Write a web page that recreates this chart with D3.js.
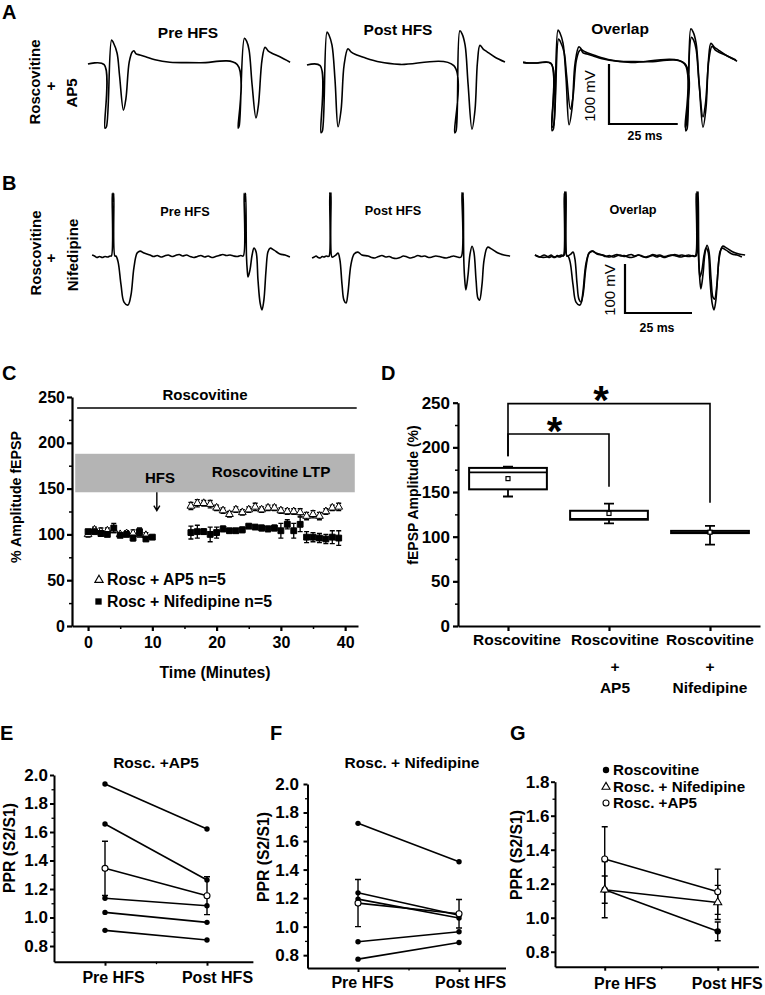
<!DOCTYPE html>
<html><head><meta charset="utf-8"><title>Figure</title>
<script src="https://cdn.jsdelivr.net/npm/d3@7/dist/d3.min.js"></script>
<style>
 html,body{margin:0;padding:0;background:#fff;}
 svg{display:block;font-family:"Liberation Sans",Arial,Helvetica,sans-serif;}
</style></head>
<body><svg id="fig" width="765" height="995"></svg>
<script>
// ================= DATA =================
// Panels A/B: field potential traces, [time (ms) from 1st stimulus, mV from baseline]
const tracePreA = [[-6.2,0],[-0.3,-1],[0,-107],[0.5,-105],[2.4,40],[3.1,35],[4.4,18],[5.3,-20],[6.7,-77],[7.6,-58],[8.8,3],[9.9,20],[10.5,22],[11.3,17],[12.7,15],[14.8,12],[18.2,7],[23.6,3],[34.5,2],[48.1,-1],[48.4,-107],[48.8,-103],[50.7,43],[51.5,38],[52.4,23],[53.5,-35],[54.9,-90],[55.8,-68],[57.1,7],[58.2,28],[59.3,22],[60.7,18],[63.6,12],[67.3,3]];
const tracePostA = [[-5.1,0],[-0.3,-1],[0,-113],[0.5,-110],[2.2,55],[2.9,50],[4.0,33],[5.1,-25],[6.2,-103],[7.3,-75],[8.4,0],[9.8,27],[10.9,22],[12.4,18],[16,12],[21.5,5],[28.7,1],[48.3,-1],[48.6,-113],[49.1,-110],[50.5,57],[51.3,52],[52.4,33],[53.5,-33],[54.9,-107],[56,-75],[56.9,5],[57.8,33],[58.9,27],[60.4,22],[63.3,13],[66.9,5]];
const leadA = [[-10.5,1],[-8.4,0]];
const tracePreB = [[-7.8,2],[-6.9,0],[-6.0,-3],[-5.0,-1],[-4.0,-3],[-3.0,-1],[-2.0,-2],[-1.1,0],[-0.6,0],[-0.3,128],[0,112],[0.3,128],[0.7,0],[1.1,0],[1.9,-12],[3.0,-59],[4.1,-94],[5.6,-100],[6.7,-80],[7.8,-24],[9.0,6],[10.1,10],[11.6,6],[13.8,2],[15.2,-1],[16.5,1],[17.9,-2],[19.2,0],[20.6,2],[22,-1],[23.3,1],[24.7,3],[26,0],[27.4,2],[28.8,-1],[30.1,-3],[31.5,-1],[32.8,1],[34.2,-2],[35.5,0],[36.9,-3],[38.3,-1],[39.6,1],[41,3],[42.3,1],[43.7,2],[45,0],[46.4,-1],[47.7,1],[48.6,0],[48.9,128],[49.2,112],[49.5,128],[49.8,0],[50.1,-29],[50.4,-43],[51.1,-29],[51.9,2],[52.6,16],[53.4,8],[54.1,-49],[54.9,-96],[55.6,-110],[56.3,-90],[57.1,-29],[57.8,8],[58.6,16],[60.1,12],[62.3,4],[64.2,2],[66.0,-2]];
const tracePostB = [[-6.7,-2],[-5.9,0],[-5.2,2],[-4.4,-1],[-3.7,-2],[-2.9,1],[-2.2,0],[-1.4,2],[-0.7,1],[-0.3,2],[-0.1,131],[0.2,118],[0.4,131],[0.7,0],[1.1,0],[2.2,4],[3.0,8],[3.7,-6],[4.5,-57],[5.2,-88],[6.0,-94],[6.7,-73],[7.8,-16],[9.0,6],[10.4,10],[11.9,4],[14.2,2],[15.5,-1],[16.8,-2],[18.1,1],[19.4,3],[20.8,0],[22.1,1],[23.4,-2],[24.8,-3],[26.1,-1],[27.4,2],[28.8,0],[30.1,-2],[31.4,0],[32.8,3],[34.1,1],[35.4,2],[36.8,-1],[38.1,0],[39.4,2],[40.8,1],[42.1,-1],[43.4,-2],[44.8,0],[46.1,2],[47.5,0],[48.9,0],[49.2,131],[49.5,118],[49.7,131],[49.9,0],[50.2,-40],[50.7,-67],[51.5,-37],[52.2,4],[53.0,22],[53.7,10],[54.5,-47],[55.2,-84],[55.8,-88],[56.7,-57],[57.5,-6],[58.8,20],[60.4,16],[62.7,8],[64.9,4],[67.2,2]];
const leadB = [[-11.2,2],[-9.5,-2]];
const traceTitles = ["Pre HFS", "Post HFS", "Overlap"];
const scaleBarMs = 25, scaleBarMv = 100;

// Panel C: time course (% amplitude fEPSP)
const timeAP5Pre = [0,1,2,3,4,5,6,7,8,9];
const ampAP5Pre  = [100,105,103,104,105,100,101,101,100,99];
const errAP5Pre  = [3,3,4,3,3,2,3,4,3,3];
const timeNifPre = [0,1,2,3,4,5,6,7,8,9,10];
const ampNifPre  = [103,103,101,100,107,99,100,96,103,95,97];
const errNifPre  = [2,2,3,2,5,2,2,3,4,2,2];
const timePost   = [16,17,18,19,20,21,22,23,24,25,26,27,28,29,30,31,32,33,34,35,36,37,38,39];
const ampAP5Post = [131,134,134,133,129,126,122,127,124,127,130,127,129,129,126,125,125,124,120,122,120,125,129,130];
const errAP5Post = [4,4,3,4,3,3,3,3,3,3,4,3,3,3,3,3,3,4,4,4,4,3,3,4];
const ampNifPost = [102,103,103,100,102,106,104,104,105,109,108,107,106,107,104,111,104,111,97,97,96,95,97,96];
const errNifPost = [7,7,3,8,6,3,2,2,3,2,2,3,3,3,8,5,8,8,6,5,5,5,7,8];
const ltpBand = [146, 188];
const cYTicks = [0,50,100,150,200,250];
const cYMinor = [25,75,125,175,225];
const cXTicks = [0,10,20,30,40];
const cXMinor = [5,15,25,35];
const hfsTime = 10.7;
const legendC = ["Rosc + AP5 n=5", "Rosc + Nifedipine n=5"];

// Panel D: box plots (fEPSP amplitude %)
const boxCats  = ["Roscovitine", "Roscovitine + AP5", "Roscovitine + Nifedipine"];
const boxLabels = [["Roscovitine"], ["Roscovitine","+","AP5"], ["Roscovitine","+","Nifedipine"]];
const boxQ1   = [153, 119, 104];
const boxMed  = [172, 120, 105];
const boxQ3   = [177, 129, 106.5];
const boxMin  = [145, 115, 91];
const boxMax  = [178.5, 137, 112];
const boxMean = [165, 126, 105];
const dYTicks = [0,50,100,150,200,250];
const dYMinor = [25,75,125,175,225];
// significance brackets: [fromIdx, toIdx, top, leftBottom, rightBottom, starValue]
const sigBrackets = [[0, 2, 249, 190, 138, 262], [0, 1, 215, 190, 156, 227]];

// Panels E/F: paired-pulse ratio, [pre, post] per slice, plus mean +/- SD
const pprAP5 = [[1.937,1.621],[1.656,1.263],[1.135,1.083],[1.036,0.966],[0.91,0.842]];
const pprAP5Mean = [1.345, 1.153], pprAP5Sd = [0.19, 0.133];
const pprNif = [[1.724,1.455],[1.237,1.08],[1.193,1.06],[0.894,0.964],[0.772,0.889]];
const pprNifMean = [1.165, 1.09], pprNifSd = [0.165, 0.1];
const pprXLabels = ["Pre HFS", "Post HFS"];
const pprTicksEF = [0.8,1.0,1.2,1.4,1.6,1.8,2.0];
const pprMinorEF = [0.9,1.1,1.3,1.5,1.7,1.9];
// Panel G: group means
const gSeries = ["Roscovitine", "Rosc. + Nifedipine", "Rosc. +AP5"];
const gMean = [[1.165, 0.92], [1.165, 1.09], [1.345, 1.153]];
const gSd   = [[0.08, 0.055], [0.165, 0.1], [0.19, 0.133]];
const pprTicksG = [0.8,1.0,1.2,1.4,1.6,1.8];
const pprMinorG = [0.9,1.1,1.3,1.5,1.7];

// ================= DRAWING =================
const svg = d3.select("#fig");
const ink = "#000";

function addText(p, x, y, s, size, o = {}) {
  const t = p.append("text").attr("x", x).attr("y", y).text(s)
    .attr("font-size", size).attr("font-weight", o.weight || "bold")
    .attr("text-anchor", o.anchor || "middle").attr("fill", ink);
  if (o.rotate) t.attr("transform", `rotate(${o.rotate},${x},${y})`);
  return t;
}
function styleAxis(g, fs, sw) {
  g.attr("font-family", null).attr("font-size", null);
  g.selectAll("path.domain").attr("stroke-width", sw).attr("stroke", ink);
  g.selectAll(".tick line").attr("stroke-width", sw).attr("stroke", ink);
  g.selectAll(".tick text").attr("font-size", fs).attr("font-weight", "bold").attr("fill", ink);
}
function minorAxis(g, axis, sw) {
  g.call(axis);
  g.select("path.domain").remove();
  g.selectAll(".tick line").attr("stroke-width", sw).attr("stroke", ink);
}

// Panel letters
[["A",2,19],["B",2,190],["C",2,380],["D",381,380],["E",0,740],["F",270,740],["G",510,740]]
  .forEach(([l,x,y]) => addText(svg, x, y, l, 20, {anchor:"start"}));

// ---- A & B traces ----
const rows = [
  {msPx:2.75, mvPx:0.6, origins:[[105,64],[321,65],[552,63]], bar:[609,124],
   titleX:[188,398,620], titleY:[38,35,34], titleSize:15.5, pre:tracePreA, post:tracePostA, lead:leadA,
   mvLabel:[595,96], msLabel:[645,140], rowLabels:[["Roscovitine",40,82],["+",55.5,86],["AP5",77,93]]},
  {msPx:2.68, mvPx:0.49, origins:[[113,256],[330,257],[565,256]], bar:[625,313],
   titleX:[185,393,633], titleY:[216,215,214], titleSize:12.7, pre:tracePreB, post:tracePostB, lead:leadB,
   mvLabel:[615,290], msLabel:[657,332], rowLabels:[["Roscovitine",41,253],["+",55.5,258],["Nifedipine",78,255]]}
];
function trScales(row, ox, oy) {
  return [d3.scaleLinear().domain([0, scaleBarMs]).range([ox, ox + scaleBarMs*row.msPx]),
          d3.scaleLinear().domain([0, scaleBarMv]).range([oy, oy - scaleBarMv*row.mvPx])];
}
rows.forEach(row => {
  const g = svg.append("g");
  const sets = [[row.pre], [row.post], [row.lead.concat(row.pre), row.lead.concat(row.post)]];
  sets.forEach((traces, i) => {
    const [xs, ys] = trScales(row, row.origins[i][0], row.origins[i][1]);
    const line = d3.line().x(d => xs(d[0])).y(d => ys(d[1])).curve(d3.curveCatmullRom.alpha(0.5));
    traces.forEach(tr => g.append("path").datum(tr).attr("d", line)
      .attr("fill", "none").attr("stroke", ink).attr("stroke-width", 1.6).attr("stroke-linejoin","round"));
    addText(g, row.titleX[i], row.titleY[i], traceTitles[i], row.titleSize);
  });
  const [bx, by] = trScales(row, row.bar[0], row.bar[1]);
  g.append("path").attr("d", `M${bx(0)},${by(scaleBarMv)}V${by(0)}H${bx(scaleBarMs)}`)
    .attr("fill","none").attr("stroke", ink).attr("stroke-width", 2.2);
  addText(g, row.mvLabel[0], row.mvLabel[1], scaleBarMv + " mV", 15, {weight:"normal", rotate:-90});
  addText(g, row.msLabel[0], row.msLabel[1], scaleBarMs + " ms", 12.3);
  row.rowLabels.forEach(([s,x,y]) => addText(g, x, y, s, 15, {rotate:-90}));
});

// ---- Panel C ----
{
  const g = svg.append("g");
  const x = d3.scaleLinear().domain([-2.5, 42]).range([72, 358]);
  const y = d3.scaleLinear().domain([0, 250]).range([626, 397]);
  g.append("rect").attr("x", x(-2)).attr("width", x(41.5) - x(-2))
    .attr("y", y(ltpBand[1])).attr("height", y(ltpBand[0]) - y(ltpBand[1])).attr("fill", "#b4b4b4");
  g.append("line").attr("x1", x(-1.7)).attr("x2", x(41.8)).attr("y1", y(238)).attr("y2", y(238))
    .attr("stroke", ink).attr("stroke-width", 1.6);
  addText(g, 205, 400, "Roscovitine", 15);
  addText(g, 271, 477, "Roscovitine LTP", 15.3);
  addText(g, 160, 483, "HFS", 15);
  g.append("path").attr("d", `M${x(hfsTime)},${y(ltpBand[0])}V${y(126)}M${x(hfsTime)-3},${y(126)-5}L${x(hfsTime)},${y(126)}L${x(hfsTime)+3},${y(126)-5}`)
    .attr("fill","none").attr("stroke", ink).attr("stroke-width", 1.4);
  const ya = g.append("g").attr("transform", "translate(72,0)")
    .call(d3.axisLeft(y).tickValues(cYTicks).tickSize(5).tickSizeOuter(0).tickPadding(2));
  styleAxis(ya, 16, 2.2);
  minorAxis(g.append("g").attr("transform","translate(72,0)"), d3.axisLeft(y).tickValues(cYMinor).tickSize(3).tickFormat(""), 1.5);
  const xa = g.append("g").attr("transform", "translate(0,626)")
    .call(d3.axisBottom(x).tickValues(cXTicks).tickSize(5).tickSizeOuter(0).tickPadding(6));
  styleAxis(xa, 16, 2.2);
  minorAxis(g.append("g").attr("transform","translate(0,626)"), d3.axisBottom(x).tickValues(cXMinor).tickSize(3).tickFormat(""), 1.5);
  addText(g, 21, 497, "% Amplitude fEPSP", 14.2, {rotate:-90});
  addText(g, 215, 678, "Time (Minutes)", 15.8);
  const tri = d3.symbol().type(d3.symbolTriangle).size(26);
  const sq = d3.symbol().type(d3.symbolSquare).size(34);
  function series(times, vals, errs, sym, fill) {
    times.forEach((t, i) => {
      const cx = x(t);
      g.append("path").attr("d", `M${cx},${y(vals[i]+errs[i])}V${y(vals[i]-errs[i])}M${cx-2.5},${y(vals[i]+errs[i])}H${cx+2.5}M${cx-2.5},${y(vals[i]-errs[i])}H${cx+2.5}`)
        .attr("stroke", ink).attr("stroke-width", 1.3).attr("fill","none");
      g.append("path").attr("d", sym()).attr("transform", `translate(${cx},${y(vals[i])})`)
        .attr("fill", fill).attr("stroke", ink).attr("stroke-width", 1);
    });
  }
  series(timeAP5Pre, ampAP5Pre, errAP5Pre, tri, "#fff");
  series(timePost, ampAP5Post, errAP5Post, tri, "#fff");
  series(timeNifPre, ampNifPre, errNifPre, sq, ink);
  series(timePost, ampNifPost, errNifPost, sq, ink);
  g.append("path").attr("d", d3.symbol().type(d3.symbolTriangle).size(30)()).attr("transform","translate(99,580)")
    .attr("fill","#fff").attr("stroke", ink).attr("stroke-width", 1.1);
  addText(g, 107, 585, legendC[0], 15.8, {anchor:"start"});
  g.append("path").attr("d", d3.symbol().type(d3.symbolSquare).size(40)()).attr("transform","translate(98.5,601.5)").attr("fill", ink);
  addText(g, 107, 607, legendC[1], 15.8, {anchor:"start"});
}

// ---- Panel D ----
{
  const g = svg.append("g");
  const x = d3.scalePoint().domain(boxCats).range([458, 760]).padding(0.495);
  const y = d3.scaleLinear().domain([0, 250]).range([626, 402.7]);
  const ya = g.append("g").attr("transform","translate(458,0)")
    .call(d3.axisLeft(y).tickValues(dYTicks).tickSize(5).tickSizeOuter(0).tickPadding(3));
  styleAxis(ya, 17, 2.2);
  minorAxis(g.append("g").attr("transform","translate(458,0)"), d3.axisLeft(y).tickValues(dYMinor).tickSize(3).tickFormat(""), 1.5);
  const xa = g.append("g").attr("transform","translate(0,626)")
    .call(d3.axisBottom(x).tickSize(5).tickSizeOuter(0).tickFormat(""));
  styleAxis(xa, 15, 2.2);
  addText(g, 418, 495, "fEPSP Amplitude (%)", 14, {rotate:-90});
  const ldx = [9, 6, 0], lys = [645, 672, 693];
  boxLabels.forEach((lines, i) => lines.forEach((s, j) => addText(g, x(boxCats[i]) + ldx[i], lys[j], s, 15.5)));
  const bw = x.step() * 0.77;
  boxCats.forEach((c, i) => {
    const cx = x(c);
    g.append("path").attr("d", `M${cx},${y(boxMax[i])}V${y(boxQ3[i])}M${cx},${y(boxQ1[i])}V${y(boxMin[i])}M${cx-5},${y(boxMax[i])}H${cx+5}M${cx-5},${y(boxMin[i])}H${cx+5}`)
      .attr("stroke", ink).attr("stroke-width", 1.8).attr("fill","none");
    g.append("rect").attr("x", cx - bw/2).attr("width", bw).attr("y", y(boxQ3[i])).attr("height", y(boxQ1[i]) - y(boxQ3[i]))
      .attr("fill", "#fff").attr("stroke", ink).attr("stroke-width", 2);
    g.append("line").attr("x1", cx - bw/2).attr("x2", cx + bw/2).attr("y1", y(boxMed[i])).attr("y2", y(boxMed[i]))
      .attr("stroke", ink).attr("stroke-width", 1.6);
    g.append("rect").attr("x", cx - 2).attr("y", y(boxMean[i]) - 2).attr("width", 4).attr("height", 4)
      .attr("fill", "#fff").attr("stroke", ink).attr("stroke-width", 1.2);
  });
  sigBrackets.forEach(([a, b, top, lb, rb, sv]) => {
    const xa_ = x(boxCats[a]), xb = x(boxCats[b]);
    g.append("path").attr("d", `M${xa_},${y(lb)}V${y(top)}H${xb}V${y(rb)}`)
      .attr("fill","none").attr("stroke", ink).attr("stroke-width", 1.6);
    addText(g, (xa_ + xb)/2 - (b === 2 ? 8 : 4), y(sv) + 22, "*", 40);
  });
}

// ---- Panels E & F ----
function pprPanel(cfg) {
  const g = svg.append("g");
  const { x, y } = cfg;
  const ya = g.append("g").attr("transform", `translate(${x.range()[0]},0)`)
    .call(d3.axisLeft(y).tickValues(cfg.ticks).tickSize(4).tickSizeOuter(0).tickPadding(cfg.pad).tickFormat(d3.format(".1f")));
  styleAxis(ya, 17, 2);
  minorAxis(g.append("g").attr("transform", `translate(${x.range()[0]},0)`), d3.axisLeft(y).tickValues(cfg.minor).tickSize(2.5).tickFormat(""), 1.3);
  const xa = g.append("g").attr("transform", `translate(0,${y.range()[0]})`)
    .call(d3.axisBottom(x).tickValues([1, 2]).tickSize(4).tickSizeOuter(0).tickFormat((d, i) => pprXLabels[i]));
  styleAxis(xa, 16, 2);
  xa.selectAll(".tick text").attr("dy", null).attr("y", cfg.labelY - y.range()[0]).attr("dx", (d, i) => cfg.labelDx[i]);
  minorAxis(g.append("g").attr("transform", `translate(0,${y.range()[0]})`), d3.axisBottom(x).tickValues([1.5]).tickSize(2.5).tickFormat(""), 1.3);
  addText(g, cfg.yTitle[0], cfg.yTitle[1], "PPR (S2/S1)", 15.7, {rotate:-90});
  if (cfg.title) addText(g, cfg.title[1], cfg.title[2], cfg.title[0], 15.5);
  return g;
}
function errBar(g, cx, m, s, y, w) {
  g.append("path").attr("d", `M${cx},${y(m+s)}V${y(m-s)}M${cx-w},${y(m+s)}H${cx+w}M${cx-w},${y(m-s)}H${cx+w}`)
    .attr("stroke", ink).attr("stroke-width", 1.4).attr("fill", "none");
}
function pairedPanel(cfg, pairs, mean, sd) {
  const g = pprPanel(cfg);
  const { x, y } = cfg;
  errBar(g, x(1), mean[0], sd[0], y, 3);
  errBar(g, x(2), mean[1], sd[1], y, 3);
  pairs.forEach(p => {
    g.append("line").attr("x1", x(1)).attr("x2", x(2)).attr("y1", y(p[0])).attr("y2", y(p[1])).attr("stroke", ink).attr("stroke-width", 1.6);
    [0,1].forEach(k => g.append("circle").attr("cx", x(k+1)).attr("cy", y(p[k])).attr("r", 2.7).attr("fill", ink));
  });
  g.append("line").attr("x1", x(1)).attr("x2", x(2)).attr("y1", y(mean[0])).attr("y2", y(mean[1])).attr("stroke", ink).attr("stroke-width", 1.6);
  [0,1].forEach(k => g.append("circle").attr("cx", x(k+1)).attr("cy", y(mean[k])).attr("r", 3).attr("fill", "#fff").attr("stroke", ink).attr("stroke-width", 1.1));
}
pairedPanel({x: d3.scaleLinear().domain([0.5, 2.45]).range([54, 252.9]), y: d3.scaleLinear().domain([0.69, 2.0]).range([961.7, 775]),
  ticks: pprTicksEF, minor: pprMinorEF, pad: 2, labelY: 983, labelDx: [8, 10], yTitle: [15, 848], title: ["Rosc. +AP5", 156, 768]},
  pprAP5, pprAP5Mean, pprAP5Sd);
pairedPanel({x: d3.scaleLinear().domain([0.5, 2.46]).range([307.5, 505.5]), y: d3.scaleLinear().domain([0.71, 2.0]).range([968, 784]),
  ticks: pprTicksEF, minor: pprMinorEF, pad: 4.5, labelY: 988, labelDx: [4, 11], yTitle: [269, 857], title: ["Rosc. + Nifedipine", 412, 768]},
  pprNif, pprNifMean, pprNifSd);

// ---- Panel G ----
{
  const cfg = {x: d3.scaleLinear().domain([0.56, 2.36]).range([555, 758.4]), y: d3.scaleLinear().domain([0.712, 1.8]).range([966.7, 781.7]),
    ticks: pprTicksG, minor: pprMinorG, pad: 1.5, labelY: 989, labelDx: [20, 9], yTitle: [522, 855], title: null};
  const g = pprPanel(cfg);
  const { x, y } = cfg;
  const markers = [
    (gg, cx, cy) => gg.append("circle").attr("cx", cx).attr("cy", cy).attr("r", 3.2).attr("fill", ink),
    (gg, cx, cy) => gg.append("path").attr("d", d3.symbol().type(d3.symbolTriangle).size(28)()).attr("transform", `translate(${cx},${cy})`).attr("fill", "#fff").attr("stroke", ink).attr("stroke-width", 1.1),
    (gg, cx, cy) => gg.append("circle").attr("cx", cx).attr("cy", cy).attr("r", 3).attr("fill", "#fff").attr("stroke", ink).attr("stroke-width", 1.1)
  ];
  gSeries.forEach((s, i) => {
    errBar(g, x(1), gMean[i][0], gSd[i][0], y, 3);
    errBar(g, x(2), gMean[i][1], gSd[i][1], y, 3);
  });
  gSeries.forEach((s, i) => {
    g.append("line").attr("x1", x(1)).attr("x2", x(2)).attr("y1", y(gMean[i][0])).attr("y2", y(gMean[i][1])).attr("stroke", ink).attr("stroke-width", 1.6);
  });
  gSeries.forEach((s, i) => {
    markers[i](g, x(1), y(gMean[i][0]));
    markers[i](g, x(2), y(gMean[i][1]));
  });
  const legY = [770, 787, 803], legBase = [775, 792, 808];
  gSeries.forEach((s, i) => {
    markers[i](g, 606, legY[i]);
    addText(g, 613, legBase[i], s, 15.2, {anchor: "start"});
  });
}
</script></body></html>
